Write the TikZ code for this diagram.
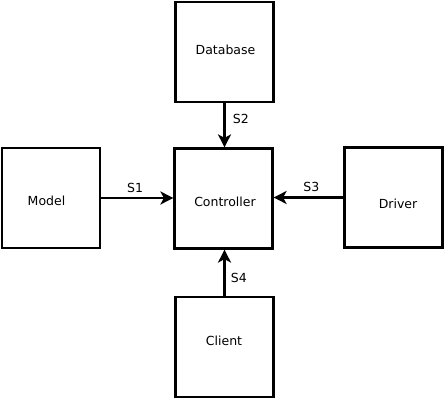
\documentclass[tikz,border=0pt]{standalone}
\usepackage{fontspec}
\setmainfont{DejaVu Sans}
\usetikzlibrary{positioning,arrows.meta}

\begin{document}
\begin{tikzpicture}[x=1pt, y=-1pt,
    block/.style={draw, line width=2.2pt, minimum width=98pt, minimum height=100pt, inner sep=0pt},
    link/.style={line width=2.2pt, -{Stealth[length=13pt, width=13pt, inset=3.5pt]}},
    tag/.style={font=\fontsize{12.5}{15}\selectfont},
    every label/.style={tag, inner sep=0pt}]
  \useasboundingbox (0,0) rectangle (445,401);

  % boxes
  \node[block, label={[xshift=1pt, yshift=2pt]center:Database}] (db) at (224.5, 52) {};
  \node[block, label={[xshift=1.5pt, yshift=-3.5pt]center:Controller}] (ctrl) at (223.5, 198.5) {};
  \node[block, label={[xshift=-4.5pt, yshift=-3pt]center:Model}] (model) at (51, 198) {};
  \node[block, label={[xshift=4.5pt, yshift=-6pt]center:Driver}] (driver) at (393.5, 197.5) {};
  \node[block, label={[xshift=-0.5pt, yshift=6pt]center:Client}] (client) at (224.5, 347) {};

  % signals into the controller
  \draw[link] (model.east) -- node[tag, above, pos=0.47, yshift=1pt] {S1} (ctrl.west |- model.east);
  \draw[link] (db.south) -- node[tag, right, pos=0.35, xshift=4pt] {S2} (db.south |- ctrl.north);
  \draw[link] (driver.west) -- node[tag, above, pos=0.46, yshift=1pt] {S3} (ctrl.east |- driver.west);
  \draw[link] (client.north) -- node[tag, right, pos=0.38, xshift=2pt] {S4} (client.north |- ctrl.south);
\end{tikzpicture}
\end{document}
